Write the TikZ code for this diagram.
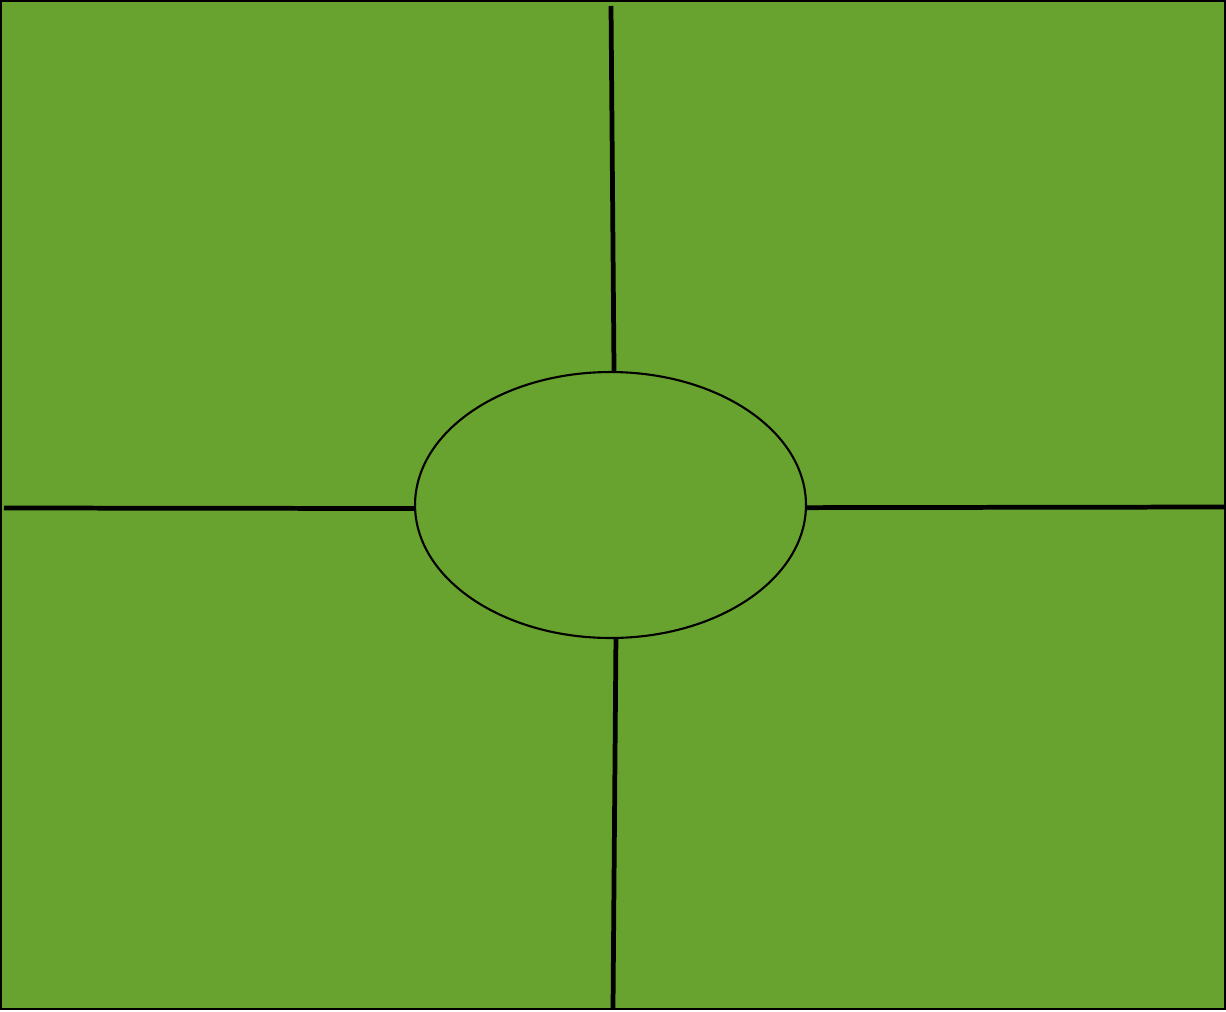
\documentclass[tikz,border=0pt]{standalone}
\usepackage{xcolor}
\usetikzlibrary{shapes.geometric}
\definecolor{cField}{RGB}{104,163,48}

\begin{document}
\begin{tikzpicture}[x=0.02cm,y=-0.02cm,
    frame/.style={draw=black,line width=1.2pt,fill=cField},
    oval/.style={ellipse,draw=black,line width=1.2pt,fill=cField,inner sep=0pt,
      minimum width=7.82cm,minimum height=5.32cm},
    divider/.style={draw=black,line width=2.7pt}]
  \useasboundingbox (0,0) rectangle (1226,1011);
  % field
  \draw[frame] (1,1) rectangle (1225,1009);
  % centre oval
  \node[oval] (hub) at (610.5,505) {};
  % free ends on the frame
  \coordinate (topEnd) at (611,6);
  \coordinate (leftEnd) at (4,508);
  \coordinate (rightEnd) at (1224,507);
  \coordinate (botEnd) at (613,1008);
  % dividers
  \draw[divider] (topEnd) -- ([xshift=2pt]hub.north);
  \draw[divider] (leftEnd) -- ([yshift=-2pt,xshift=0.6pt]hub.west);
  \draw[divider] ([yshift=-1.5pt]hub.east) -- (rightEnd);
  \draw[divider] ([xshift=3.1pt]hub.south) -- (botEnd);
\end{tikzpicture}
\end{document}
